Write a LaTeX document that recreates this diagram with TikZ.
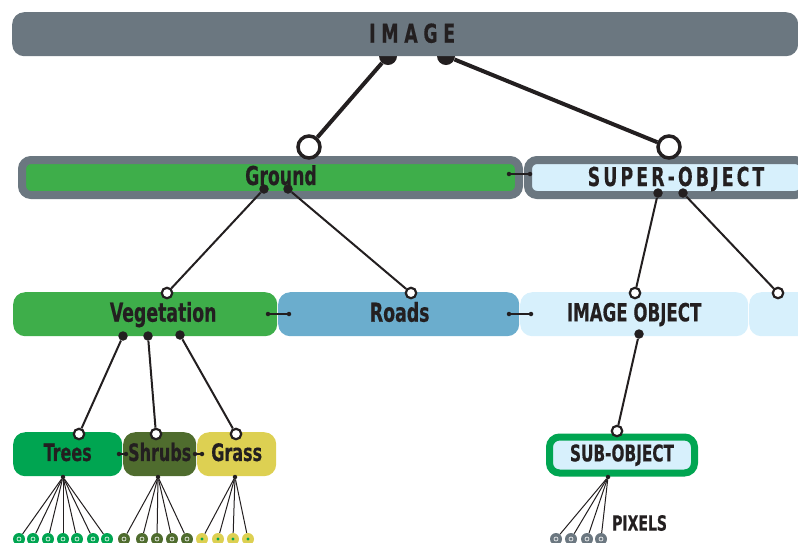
\documentclass[tikz,border=0pt]{standalone}
\usepackage{fontspec}
\newfontfamily\lblfont[FakeStretch=0.74, FakeBold=0.4]{DejaVu Sans Condensed Bold}
\usetikzlibrary{positioning}

\definecolor{slate}{HTML}{6B7780}
\definecolor{ink}{HTML}{231F20}
\definecolor{grass}{HTML}{3EAE4A}
\definecolor{road}{HTML}{6BADCD}
\definecolor{sky}{HTML}{D7F0FC}
\definecolor{tree}{HTML}{00A551}
\definecolor{shrub}{HTML}{4F6C2E}
\definecolor{hay}{HTML}{DDD052}

\tikzset{
box/.style={rectangle, rounded corners=12pt, inner sep=0pt, anchor=north west},
lbl/.style={text=ink, inner sep=0pt, text height={0.73*#1}, text depth=0pt, yshift=2pt,
  font={\lblfont\fontsize{#1}{#1}\selectfont}},
lbl/.default=26,
spaced/.style={text=ink, inner sep=0pt, text height=19pt, text depth=0pt, yshift=1pt,
  font={\lblfont\fontsize{26}{26}\selectfont\addfontfeature{LetterSpace=#1}}},
bigdot/.style={circle, fill=ink, inner sep=0pt, minimum size=18pt},
bigring/.style={circle, draw=ink, fill=white, line width=3.5pt, inner sep=0pt, minimum size=22pt},
dot/.style={circle, fill=ink, inner sep=0pt, minimum size=9.5pt},
ring/.style={circle, draw=ink, fill=white, line width=2.2pt, inner sep=0pt, minimum size=10.5pt},
tiny/.style={circle, fill=ink, inner sep=0pt, minimum size=4.5pt},
pix/.style={circle, fill=#1, inner sep=0pt, minimum size=12pt,
  path picture={\draw[white, line width=0.6pt] (path picture bounding box.center) circle (2pt);}},
pixg/.style={circle, fill=hay, inner sep=0pt, minimum size=12pt,
  path picture={\fill[tree] (path picture bounding box.center) circle (1.6pt);}},
wire/.style={draw=ink, line width=1pt},
}

\begin{document}
\begin{tikzpicture}[x=1pt, y=-1pt]
\useasboundingbox (0,0) rectangle (798,542);
\clip (0,0) rectangle (798,542);

% anchors under the image bar
\path
(388,56) node[bigdot] (imgL) {}
(446,56) node[bigdot] (imgR) {}
;

% boxes
\path
(12,12) node[box, fill=slate, minimum width=786, minimum height=44,
  label={[spaced=22, xshift=7]center:IMAGE}] (img) {}
(18,156) node[box, fill=grass, draw=slate, line width=8pt, rounded corners=9pt,
  minimum width=497, minimum height=35, label={[lbl, xshift=10.5]center:Ground}] (gnd) {}
(524,156) node[box, fill=sky, draw=slate, line width=8pt, rounded corners=9pt,
  minimum width=276, minimum height=35, label={[spaced=12, xshift=10]center:SUPER-OBJECT}] (sup) {}
(13,292) node[box, fill=grass, minimum width=264, minimum height=44,
  label={[lbl, xshift=18]center:Vegetation}] (veg) {}
(278,292) node[box, fill=road, minimum width=241, minimum height=44,
  label={[lbl, xshift=1]center:Roads}] (rds) {}
(520,292) node[box, fill=sky, minimum width=228, minimum height=44,
  label={[lbl=25]center:IMAGE OBJECT}] (iob) {}
(749,292) node[box, fill=sky, minimum width=100, minimum height=44] (ext) {}
(13,432) node[box, fill=tree, minimum width=109, minimum height=44,
  label={[lbl=24]center:Trees}] (trs) {}
(123,432) node[box, fill=shrub, minimum width=73, minimum height=44,
  label={[lbl=24]center:Shrubs}] (shr) {}
(197,432) node[box, fill=hay, minimum width=79, minimum height=44,
  label={[lbl=24]center:Grass}] (grs) {}
(546,433.5) node[box, fill=sky, draw=tree, line width=7pt, rounded corners=10pt,
  minimum width=145, minimum height=36, label={[lbl=23]center:SUB-OBJECT}] (sub) {}
(612,525) node[lbl=21, anchor=west] (pxl) {PIXELS}
;

% rings and dots
\path
(309,147) node[bigring] (gndIn) {}
(669,147) node[bigring] (supIn) {}
(264,189) node[dot] (gndL) {}
(288,189) node[dot] (gndR) {}
(658,193) node[dot] (supL) {}
(683,193) node[dot] (supR) {}
(167,293) node[ring] (vegIn) {}
(411,293) node[ring] (rdsIn) {}
(635,293) node[ring] (iobIn) {}
(778,293) node[ring] (extIn) {}
(123,336) node[dot] (vegL) {}
(148,336) node[dot] (vegM) {}
(180,335) node[dot] (vegR) {}
(639,334) node[dot] (iobOut) {}
(79,434) node[ring] (trsIn) {}
(156,434) node[ring] (shrIn) {}
(236,434) node[ring] (grsIn) {}
(617,431) node[ring] (subIn) {}
(63,477) node[tiny] (trsOut) {}
(158,477) node[tiny] (shrOut) {}
(235,477) node[tiny] (grsOut) {}
(608,477) node[tiny] (subOut) {}
% side links
(509,174) node[tiny] (gs1) {}
(530,174) node[tiny] (gs2) {}
(268,314) node[tiny] (vr1) {}
(289,314) node[tiny] (vr2) {}
(509,314) node[tiny] (ri1) {}
(531,314) node[tiny] (ri2) {}
(119,454) node[tiny] (ts1) {}
(126,454) node[tiny] (ts2) {}
(195,454) node[tiny] (sg1) {}
(202,454) node[tiny] (sg2) {}
;

% hierarchy
\begin{scope}[draw=ink, line width=4pt]
\draw (imgL) -- (gndIn) ;
\draw (imgR) -- (supIn) ;
\end{scope}
\begin{scope}[draw=ink, line width=2pt]
\draw (gndL) -- (vegIn) ;
\draw (gndR) -- (rdsIn) ;
\draw (supL) -- (iobIn) ;
\draw (supR) -- (extIn) ;
\draw (vegL) -- (trsIn) ;
\draw (vegM) -- (shrIn) ;
\draw (vegR) -- (grsIn) ;
\draw (iobOut) -- (subIn) ;
\end{scope}

% neighbours
\begin{scope}[draw=ink, line width=1.2pt]
\draw (gs1) -- (gs2) ;
\draw (vr1) -- (vr2) ;
\draw (ri1) -- (ri2) ;
\draw (ts1) -- (ts2) ;
\draw (sg1) -- (sg2) ;
\end{scope}

% pixels
\foreach \px [count=\k] in {19,33,48,63,77,93,107} {
  \node[pix=tree] (trsP\k) at (\px,539) {};
  \draw[wire] (trsOut) -- (trsP\k);
}
\foreach \px [count=\k] in {124,142,157,172,187} {
  \node[pix=shrub] (shrP\k) at (\px,539) {};
  \draw[wire] (shrOut) -- (shrP\k);
}
\foreach \px [count=\k] in {202,218,233,248} {
  \node[pixg] (grsP\k) at (\px,539) {};
  \draw[wire] (grsOut) -- (grsP\k);
}
\foreach \px [count=\k] in {556,571,587,601} {
  \node[pix=slate] (subP\k) at (\px,539) {};
  \draw[wire] (subOut) -- (subP\k);
}

\end{tikzpicture}
\end{document}
